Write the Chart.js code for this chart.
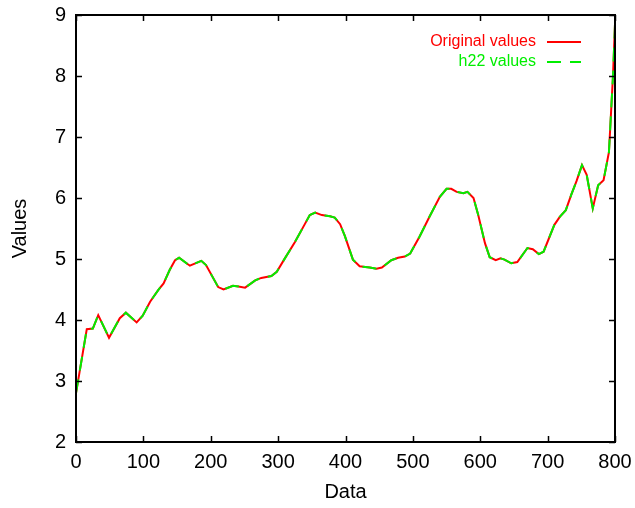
<!DOCTYPE html>
<html>
<head>
<meta charset="utf-8">
<script src="https://cdn.jsdelivr.net/npm/chart.js@4.4.0/dist/chart.umd.min.js"></script>
<style>
  html, body { margin: 0; padding: 0; background: #fff; }
  #wrap { width: 635px; height: 508px; }
</style>
</head>
<body>
<div id="wrap"><canvas id="valuesChart" width="635" height="508"></canvas></div>
<script>
// x positions of the samples
const dataX = [0, 16, 25, 33, 49, 65, 74, 90, 99, 110, 122, 130, 139, 147, 153, 169, 186, 193,
  211, 219, 233, 241, 251, 266, 275, 290, 298, 310, 325, 340, 347, 355, 365, 377, 384, 392, 399,
  411, 421, 436, 446, 454, 468, 478, 488, 496, 510, 525, 540, 550, 557, 565, 575, 581, 590, 597,
  607, 614, 623, 630, 636, 646, 655, 670, 678, 687, 694, 710, 718, 727, 735, 743, 751, 758, 767,
  775, 783, 791, 797, 800];

const originalValues = [2.8, 3.85, 3.86, 4.08, 3.71, 4.03, 4.12, 3.96, 4.07, 4.30, 4.49, 4.60, 4.82, 4.98, 5.02, 4.89, 4.97, 4.90,
  4.54, 4.50, 4.56, 4.55, 4.53, 4.65, 4.69, 4.72, 4.79, 5.01, 5.28, 5.58, 5.72, 5.76, 5.72, 5.70, 5.68, 5.57, 5.38,
  4.99, 4.88, 4.86, 4.84, 4.86, 4.98, 5.02, 5.04, 5.09, 5.37, 5.70, 6.02, 6.15, 6.15, 6.10, 6.08, 6.10, 6.00, 5.72,
  5.26, 5.03, 4.98, 5.01, 4.99, 4.93, 4.95, 5.18, 5.16, 5.08, 5.12, 5.56, 5.69, 5.80, 6.05, 6.28, 6.54, 6.38, 5.83,
  6.21, 6.29, 6.75, 8.0, 8.85];

const h22Values = [2.8, 3.85, 3.86, 4.08, 3.71, 4.03, 4.12, 3.96, 4.07, 4.30, 4.49, 4.60, 4.82, 4.98, 5.02, 4.89, 4.97, 4.90,
  4.54, 4.50, 4.56, 4.55, 4.53, 4.65, 4.69, 4.72, 4.79, 5.01, 5.28, 5.58, 5.72, 5.76, 5.72, 5.70, 5.68, 5.57, 5.38,
  4.99, 4.88, 4.86, 4.84, 4.86, 4.98, 5.02, 5.04, 5.09, 5.37, 5.70, 6.02, 6.15, 6.15, 6.10, 6.08, 6.10, 6.00, 5.72,
  5.26, 5.03, 4.98, 5.01, 4.99, 4.93, 4.95, 5.18, 5.16, 5.08, 5.12, 5.56, 5.69, 5.80, 6.05, 6.28, 6.54, 6.38, 5.83,
  6.21, 6.29, 6.75, 8.0, 8.85];

const xTicks = [0, 100, 200, 300, 400, 500, 600, 700, 800];
const yTicks = [2, 3, 4, 5, 6, 7, 8, 9];

const FONT = "'Liberation Sans', Arial, sans-serif";

// gnuplot-like frame with inward ticks on all four sides
const framePlugin = {
  id: 'frame',
  afterDraw(chart) {
    const { ctx, chartArea: a, scales } = chart;
    ctx.save();
    ctx.strokeStyle = '#000';
    ctx.lineWidth = 1.5;
    ctx.beginPath();
    xTicks.forEach(v => {
      const px = Math.round(scales.x.getPixelForValue(v)) + 0.5;
      ctx.moveTo(px, a.bottom); ctx.lineTo(px, a.bottom - 6);
      ctx.moveTo(px, a.top); ctx.lineTo(px, a.top + 6);
    });
    yTicks.forEach(v => {
      const py = Math.round(scales.y.getPixelForValue(v)) + 0.5;
      ctx.moveTo(a.left, py); ctx.lineTo(a.left + 6, py);
      ctx.moveTo(a.right, py); ctx.lineTo(a.right - 6, py);
    });
    ctx.stroke();
    ctx.lineWidth = 2;
    ctx.strokeRect(a.left, a.top, a.right - a.left, a.bottom - a.top);

    // legend, text right aligned with sample line on the right
    ctx.font = '16px ' + FONT;
    ctx.textAlign = 'right';
    ctx.textBaseline = 'middle';
    chart.data.datasets.forEach((ds, i) => {
      const y = 42 + i * 20;
      ctx.fillStyle = ds.borderColor;
      ctx.fillText(ds.label, 536, y);
      ctx.strokeStyle = ds.borderColor;
      ctx.lineWidth = 2;
      ctx.setLineDash(ds.borderDash || []);
      ctx.beginPath();
      ctx.moveTo(547, y); ctx.lineTo(581, y);
      ctx.stroke();
    });
    ctx.restore();
  }
};

new Chart(document.getElementById('valuesChart').getContext('2d'), {
  type: 'line',
  data: {
    datasets: [{
      label: 'Original values',
      data: dataX.map((x, i) => ({ x: x, y: originalValues[i] })),
      borderColor: '#ff0000',
      borderWidth: 2,
      pointRadius: 0,
      fill: false,
      order: 1
    }, {
      label: 'h22 values',
      data: dataX.map((x, i) => ({ x: x, y: h22Values[i] })),
      borderColor: '#00ee00',
      borderWidth: 2,
      borderDash: [14, 9],
      pointRadius: 0,
      fill: false,
      order: 0
    }]
  },
  options: {
    responsive: false,
    animation: false,
    layout: { padding: { top: 15, right: 20, left: 0, bottom: 0 } },
    plugins: {
      legend: { display: false },
      tooltip: { enabled: false }
    },
    scales: {
      x: {
        type: 'linear',
        min: 0,
        max: 800,
        afterBuildTicks: s => { s.ticks = xTicks.map(v => ({ value: v })); },
        afterFit: s => { s.height = 66; s.paddingLeft = 0; s.paddingRight = 0; },
        grid: { display: false, drawTicks: false },
        border: { display: false },
        ticks: { color: '#000', font: { family: FONT, size: 20 }, padding: 8, maxRotation: 0 },
        title: { display: true, text: 'Data', color: '#000', font: { family: FONT, size: 20 }, padding: { top: 4, bottom: 4 } }
      },
      y: {
        min: 2,
        max: 9,
        afterBuildTicks: s => { s.ticks = yTicks.map(v => ({ value: v })); },
        afterFit: s => { s.width = 76; s.paddingTop = 0; s.paddingBottom = 0; },
        grid: { display: false, drawTicks: false },
        border: { display: false },
        ticks: { color: '#000', font: { family: FONT, size: 20 }, padding: 10 },
        title: { display: true, text: 'Values', color: '#000', font: { family: FONT, size: 20 }, padding: { top: 8, bottom: 4 } }
      }
    }
  },
  plugins: [framePlugin]
});
</script>
</body>
</html>
